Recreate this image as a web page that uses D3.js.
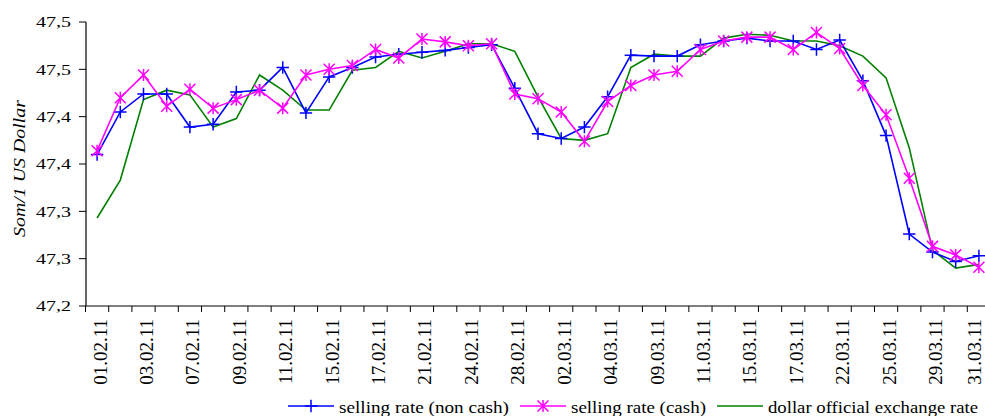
<!DOCTYPE html>
<html><head><meta charset="utf-8">
<script src="https://cdn.jsdelivr.net/npm/d3@7/dist/d3.min.js"></script>
<style>body{margin:0;background:#fff}svg{display:block}text{font-family:"Liberation Serif","Times New Roman",serif}</style>
</head><body><svg id="c" width="985" height="416"></svg>
<script>
const dates = ["01.02.11","02.02.11","03.02.11","04.02.11","07.02.11","08.02.11","09.02.11","10.02.11","11.02.11","14.02.11","15.02.11","16.02.11","17.02.11","18.02.11","21.02.11","22.02.11","24.02.11","25.02.11","28.02.11","01.03.11","02.03.11","03.03.11","04.03.11","07.03.11","09.03.11","10.03.11","11.03.11","14.03.11","15.03.11","16.03.11","17.03.11","18.03.11","22.03.11","23.03.11","25.03.11","28.03.11","29.03.11","30.03.11","31.03.11"];
const nonCash = [47.360,47.405,47.424,47.424,47.389,47.392,47.426,47.428,47.452,47.404,47.442,47.452,47.463,47.466,47.468,47.470,47.473,47.476,47.430,47.382,47.377,47.389,47.421,47.465,47.464,47.464,47.476,47.480,47.483,47.480,47.480,47.471,47.481,47.438,47.380,47.276,47.257,47.247,47.253];
const cash = [47.364,47.420,47.444,47.411,47.429,47.409,47.418,47.428,47.409,47.444,47.450,47.454,47.471,47.462,47.482,47.479,47.475,47.477,47.424,47.419,47.405,47.374,47.416,47.433,47.444,47.448,47.471,47.480,47.484,47.484,47.471,47.489,47.472,47.433,47.402,47.335,47.263,47.254,47.241];
const official = [47.293,47.333,47.418,47.428,47.423,47.389,47.398,47.444,47.428,47.407,47.407,47.449,47.452,47.469,47.462,47.469,47.477,47.477,47.469,47.421,47.377,47.375,47.382,47.452,47.466,47.464,47.464,47.483,47.487,47.486,47.480,47.480,47.475,47.464,47.441,47.367,47.259,47.240,47.244];
const yTicks = [47.2,47.25,47.3,47.35,47.4,47.45,47.5];
const yTickLabels = ["47,2","47,3","47,3","47,4","47,4","47,5","47,5"];
const seriesNames = ["selling rate (non cash)","selling rate (cash)","dollar official exchange rate"];
const yTitle = "Som/1 US Dollar";

const svg = d3.select("#c");
const x = d3.scaleBand().domain(dates).range([85.5, 990.5]).padding(0);
const y = d3.scaleLinear().domain([47.2, 47.5]).range([306, 22]);
const cx = d => x(d) + x.bandwidth()/2;

const g = svg.append("g");
g.append("line").attr("x1",86).attr("x2",86).attr("y1",y(47.5)).attr("y2",y(47.2)).attr("stroke","#000").attr("stroke-width",1.2);
g.append("line").attr("x1",86).attr("x2",990).attr("y1",306).attr("y2",306).attr("stroke","#000").attr("stroke-width",1.2);
yTicks.forEach((t,i)=>{
  g.append("line").attr("x1",79).attr("x2",86).attr("y1",y(t)).attr("y2",y(t)).attr("stroke","#000");
  g.append("text").attr("x",71).attr("y",y(t)).attr("dy","0.35em").attr("text-anchor","end")
   .attr("font-size",15).attr("textLength",35).attr("lengthAdjust","spacingAndGlyphs").attr("fill","#000").text(yTickLabels[i]);
});
dates.forEach((d,i)=>{
  const bx = x(d);
  g.append("line").attr("x1",bx).attr("x2",bx).attr("y1",306).attr("y2",312).attr("stroke","#000");
  if(i%2===0){
    g.append("text").attr("transform",`translate(${Math.min(cx(d)+9.5,980.5)},319) rotate(-90)`).attr("text-anchor","end")
     .attr("font-size",19).attr("fill","#000").text(d);
  }
});
g.append("text").attr("transform","translate(25,168.5) rotate(-90)").attr("text-anchor","middle")
 .attr("font-size",17).attr("font-style","italic").attr("textLength",137).attr("lengthAdjust","spacingAndGlyphs")
 .attr("fill","#000").text(yTitle);

const line = d3.line().x((v,i)=>cx(dates[i])).y(v=>y(v));
const defs = [
 {vals: nonCash, color:"#0000ff", marker:"plus"},
 {vals: cash, color:"#ff00ff", marker:"star"},
 {vals: official, color:"#008000", marker:null}
];
function drawMarker(sel, type, color, px, py){
  if(type==="plus"){
    const s = 6.2;
    sel.append("path").attr("d",`M${px-s},${py}H${px+s}M${px},${py-s}V${py+s}`).attr("stroke",color).attr("stroke-width",1.5).attr("fill","none");
  } else if(type==="star"){
    const s = 5.5;
    sel.append("path").attr("d",`M${px-s},${py-s}L${px+s},${py+s}M${px-s},${py+s}L${px+s},${py-s}M${px},${py-s-0.5}V${py+s+0.5}`).attr("stroke",color).attr("stroke-width",1.5).attr("fill","none");
  }
}
[2,0,1].forEach(k=>{
  const s = defs[k];
  svg.append("path").attr("d",line(s.vals)).attr("fill","none").attr("stroke",s.color).attr("stroke-width",1.6);
  if(s.marker){
    const mg = svg.append("g");
    s.vals.forEach((v,i)=>drawMarker(mg, s.marker, s.color, cx(dates[i]), y(v)));
  }
});

const lg = svg.append("g");
const legX = [288, 520, 717];
const legTextW = [170, 135, 210];
defs.forEach((s,i)=>{
  const lx = legX[i], ly = 406;
  lg.append("line").attr("x1",lx).attr("x2",lx+46).attr("y1",ly).attr("y2",ly).attr("stroke",s.color).attr("stroke-width",1.6);
  if(s.marker) drawMarker(lg, s.marker, s.color, lx+23, ly);
  lg.append("text").attr("x",lx+51).attr("y",412.5).attr("font-size",17)
    .attr("textLength",legTextW[i]).attr("lengthAdjust","spacingAndGlyphs").attr("fill","#000").text(seriesNames[i]);
});
</script></body></html>
